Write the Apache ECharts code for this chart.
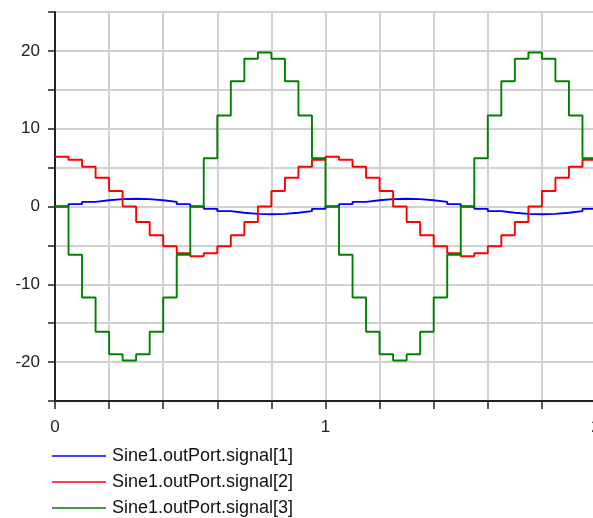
<!DOCTYPE html>
<html>
<head>
<meta charset="utf-8">
<script src="https://cdn.jsdelivr.net/npm/echarts@6/dist/echarts.min.js"></script>
<style>
  html, body { margin: 0; padding: 0; background: #fff; }
  #chart { width: 593px; height: 518px; }
</style>
</head>
<body>
<div id="chart"></div>
<script>
// Sample instants (s), zero-order hold every 0.05 s
const times = [
  0.00, 0.05, 0.10, 0.15, 0.20, 0.25, 0.30, 0.35, 0.40, 0.45,
  0.50, 0.55, 0.60, 0.65, 0.70, 0.75, 0.80, 0.85, 0.90, 0.95,
  1.00, 1.05, 1.10, 1.15, 1.20, 1.25, 1.30, 1.35, 1.40, 1.45,
  1.50, 1.55, 1.60, 1.65, 1.70, 1.75, 1.80, 1.85, 1.90, 1.95,
  2.00
];

const signal1 = [
  0, 0.3, 0.6, 0.8, 0.95, 1.0, 0.95, 0.8, 0.6, 0.3,
  0, -0.3, -0.6, -0.8, -0.95, -1.0, -0.95, -0.8, -0.6, -0.3,
  0, 0.3, 0.6, 0.8, 0.95, 1.0, 0.95, 0.8, 0.6, 0.3,
  0, -0.3, -0.6, -0.8, -0.95, -1.0, -0.95, -0.8, -0.6, -0.3,
  0
];

const signal2 = [
  6.4, 6.0, 5.1, 3.7, 2.0, 0, -2.0, -3.7, -5.1, -6.0,
  -6.4, -6.0, -5.1, -3.7, -2.0, 0, 2.0, 3.7, 5.1, 6.0,
  6.4, 6.0, 5.1, 3.7, 2.0, 0, -2.0, -3.7, -5.1, -6.0,
  -6.4, -6.0, -5.1, -3.7, -2.0, 0, 2.0, 3.7, 5.1, 6.0,
  6.4
];

const signal3 = [
  0, -6.2, -11.7, -16.1, -19.0, -19.8, -19.0, -16.1, -11.7, -6.2,
  0, 6.2, 11.7, 16.1, 19.0, 19.8, 19.0, 16.1, 11.7, 6.2,
  0, -6.2, -11.7, -16.1, -19.0, -19.8, -19.0, -16.1, -11.7, -6.2,
  0, 6.2, 11.7, 16.1, 19.0, 19.8, 19.0, 16.1, 11.7, 6.2,
  0
];

const seriesNames = [
  'Sine1.outPort.signal[1]',
  'Sine1.outPort.signal[2]',
  'Sine1.outPort.signal[3]'
];
const seriesColors = ['#0000ff', '#ff0000', '#008000'];

const xLabels = [0, 1, 2];
const yLabels = [-20, -10, 0, 10, 20];

function pairs(vals) {
  return times.map((t, i) => [t, vals[i]]);
}

const fontFamily = '"Liberation Sans", Arial, sans-serif';

const chart = echarts.init(document.getElementById('chart'), null, { renderer: 'canvas' });

const makeSeries = (vals, k) => ({
  name: seriesNames[k],
  type: 'line',
  step: 'end',
  data: pairs(vals),
  symbol: 'none',
  animation: false,
  lineStyle: { color: seriesColors[k], width: 1.9 },
  itemStyle: { color: seriesColors[k] }
});

chart.setOption({
  backgroundColor: '#ffffff',
  animation: false,
  grid: {
    left: 55, right: -3, top: 12, bottom: 117,
    outerBoundsMode: 'none',
    containLabel: false,
    show: true, borderColor: '#333', borderWidth: 1.5,
    backgroundColor: 'transparent'
  },
  legend: {
    orient: 'vertical',
    left: 52, top: 447,
    padding: 0,
    height: 80,
    itemWidth: 54, itemHeight: 14, itemGap: 8,
    icon: 'path://M0,0 L54,0 L54,1.4 L0,1.4 Z',
    textStyle: { fontFamily: fontFamily, fontSize: 18, lineHeight: 18, color: '#111', padding: [0, 0, 0, 1] },
    data: seriesNames
  },
  xAxis: {
    type: 'value',
    min: 0, max: 2, interval: 0.2,
    axisLine: { show: true, onZero: false, lineStyle: { color: '#222', width: 2 } },
    axisTick: { show: true, inside: false, length: 8, lineStyle: { color: '#222', width: 1.5 } },
    axisLabel: {
      margin: 18,
      fontFamily: fontFamily, fontSize: 17, color: '#222',
      formatter: v => {
        const hit = xLabels.find(l => Math.abs(l - v) < 1e-6);
        return hit === undefined ? '' : String(hit);
      }
    },
    splitLine: { show: true, lineStyle: { color: '#d2d2d2', width: 2 } }
  },
  yAxis: {
    type: 'value',
    min: -25, max: 25, interval: 5,
    axisLine: { show: true, onZero: false, lineStyle: { color: '#222', width: 2 } },
    axisTick: { show: true, inside: false, length: 7, lineStyle: { color: '#222', width: 1.5 } },
    axisLabel: {
      margin: 15,
      fontFamily: fontFamily, fontSize: 17, color: '#222',
      formatter: v => (yLabels.indexOf(v) >= 0 ? String(v) : '')
    },
    splitLine: { show: true, lineStyle: { color: '#d2d2d2', width: 2 } }
  },
  series: [
    makeSeries(signal1, 0),
    makeSeries(signal2, 1),
    makeSeries(signal3, 2)
  ]
});
</script>
</body>
</html>
